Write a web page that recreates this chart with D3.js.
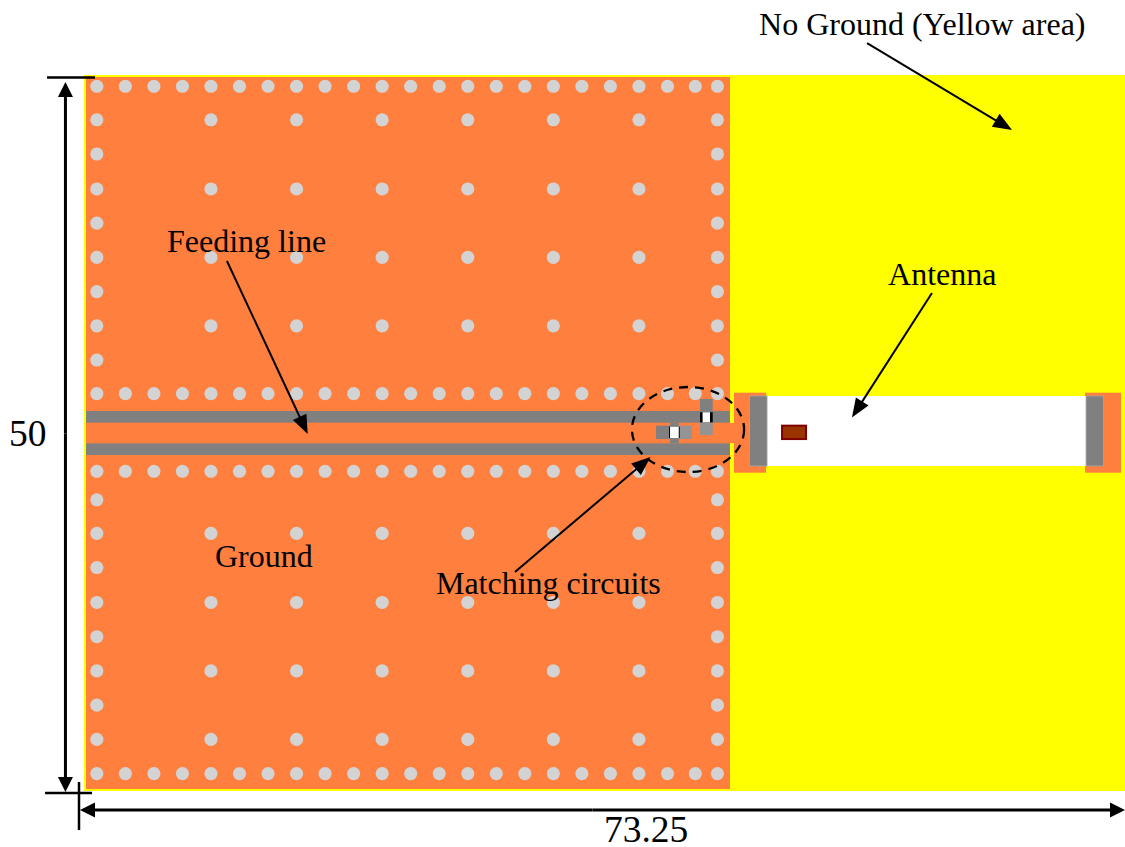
<html>
<head>
<meta charset="utf-8">
<script src="https://d3js.org/d3.v7.min.js"></script>
<style>
  body { margin: 0; background: #fff; overflow: hidden; }
  text { font-family: "Liberation Serif", serif; fill: #000; }
</style>
</head>
<body>
<svg id="viz" width="1125" height="847"></svg>
<script>
// everything in mm, board is 73.25 x 50
var boardW = 73.25;
var boardH = 50;

// via positions
var edgeX = [1.25, 3.25, 5.25, 7.25, 9.25, 11.25, 13.25, 15.25, 17.25, 19.25, 21.25, 23.25,
             25.25, 27.25, 29.25, 31.25, 33.25, 35.25, 37.25, 39.25, 41.25, 43.2, 44.75];
var rowY = [0.65, 22.2, 27.65, 48.85];
var sideX = [1.25, 44.75];
var sideY = [3.0, 5.4, 7.85, 10.25, 12.65, 15.05, 17.45, 19.85,
             29.65, 32.0, 34.4, 36.85, 39.25, 41.65, 44.05, 46.45];
var innerX = [9.25, 15.25, 21.25, 27.25, 33.25, 39.25];
var innerY = [3.0, 7.85, 12.65, 17.45, 32.0, 36.85, 41.65, 46.45];

// [x0, x1, y0, y1]
var noGround = [0.35, 73.32, -0.14, 50.07];
var ground = [0.49, 45.63, 0, 49.93];
var feedLines = [[0.49, 45.63, 23.42, 24.24], [0.49, 45.63, 25.69, 26.51]];
var copper = [[45.63, 45.95, 24.26, 25.67], [45.91, 48.16, 22.14, 27.75], [70.52, 73.04, 22.14, 27.75]];
var antenna = [48.23, 70.59, 22.37, 27.28];
var antennaEnds = [[47.0, 48.23, 22.37, 27.28], [70.59, 71.81, 22.37, 27.28]];
var chip = [49.28, 50.96, 24.45, 25.39];

// matching parts: dark half, light half, white middle
var partsDark = [[43.53, 44.42, 22.58, 23.51], [40.45, 41.43, 24.45, 25.39], [41.43, 42.04, 24.24, 25.69]];
var partsLight = [[43.53, 44.42, 24.22, 25.11], [42.04, 42.97, 24.45, 25.39]];
var partsBlack = [[43.53, 44.42, 23.51, 24.22], [41.36, 42.11, 24.52, 25.32]];
var partsWhite = [[43.71, 44.23, 23.51, 24.22], [41.43, 42.04, 24.52, 25.32]];

var circuitRing = { cx: 42.69, cy: 24.72, rx: 3.93, ry: 2.98 };

// [x1, y1, x2, y2] the tip is x2,y2
var leaders = [
  [55.24, -2.38, 65.4, 3.72],
  [10.37, 12.9, 16.03, 25.04],
  [59.79, 15.15, 54.18, 23.88],
  [30.56, 34.71, 40.06, 26.65]
];
var dimArrows = [
  [-0.95, 25, -0.95, 0.35],
  [-0.95, 25, -0.95, 50.14],
  [36, 51.4, 0.07, 51.4],
  [36, 51.4, 73.32, 51.4]
];
var dimTicks = [
  [-2.24, 0.04, 1.12, 0.04],
  [-2.38, 50.21, 0.91, 50.21],
  [0, 49.44, 0, 52.81]
];

var labels = ["No Ground (Yellow area)", "Antenna", "Feeding line", "Ground", "Matching circuits"];
var labelX = [47.67, 56.71, 6.17, 9.53, 25.02];
var labelY = [-2.95, 14.59, 12.27, 34.36, 36.26];
var dimLabels = ["50", "73.25"];
var dimLabelX = [-4.91, 36.8];
var dimLabelY = [25.88, 53.65];

var x = d3.scaleLinear().domain([0, boardW]).range([79, 1124]);
var y = d3.scaleLinear().domain([0, boardH]).range([77, 790]);
var k = x(1) - x(0);

var svg = d3.select("#viz");

function rects(list, fill, stroke, sw) {
  svg.append("g").selectAll("rect")
    .data(list)
    .enter().append("rect")
      .attr("x", function(d) { return x(d[0]) })
      .attr("width", function(d) { return x(d[1]) - x(d[0]) })
      .attr("y", function(d) { return y(d[2]) })
      .attr("height", function(d) { return y(d[3]) - y(d[2]) })
      .attr("fill", fill)
      .attr("stroke", stroke || "none")
      .attr("stroke-width", sw || 0);
}

function arrows(list, sw, len, wid) {
  var g = svg.append("g");
  list.forEach(function(d) {
    var x1 = x(d[0]), y1 = y(d[1]), x2 = x(d[2]), y2 = y(d[3]);
    var a = Math.atan2(y2 - y1, x2 - x1);
    var cos = Math.cos(a), sin = Math.sin(a);
    var bx = x2 - len * cos, by = y2 - len * sin;
    g.append("line")
      .attr("x1", x1).attr("y1", y1)
      .attr("x2", bx + cos).attr("y2", by + sin)
      .attr("stroke", "#000")
      .attr("stroke-width", sw);
    g.append("polygon")
      .attr("points", [
        [x2, y2],
        [bx - sin * wid / 2, by + cos * wid / 2],
        [bx + sin * wid / 2, by - cos * wid / 2]
      ].join(" "))
      .attr("fill", "#000");
  });
}

// board
rects([noGround], "#FFFF00");
rects([ground], "#FF7F3F");
rects(copper, "#FF7F3F");
rects([antenna], "#FFFFFF");

// vias
var vias = [];
rowY.forEach(function(b) { edgeX.forEach(function(a) { vias.push([a, b]) }) });
sideX.forEach(function(a) { sideY.forEach(function(b) { vias.push([a, b]) }) });
innerX.forEach(function(a) { innerY.forEach(function(b) { vias.push([a, b]) }) });

svg.append("g").selectAll("circle")
  .data(vias)
  .enter().append("circle")
    .attr("cx", function(d) { return x(d[0]) })
    .attr("cy", function(d) { return y(d[1]) })
    .attr("r", 0.46 * k)
    .attr("fill", "#D3D3D3");

rects(feedLines, "#808080");
rects(antennaEnds, "#808080", "#A8A8A8", 0.8);
rects([chip], "#993300", "#800000", 2);
rects(partsDark, "#808080");
rects(partsLight, "#949494");
rects(partsBlack, "#000000");
rects(partsWhite, "#FFFFFF");

svg.append("ellipse")
  .attr("cx", x(circuitRing.cx))
  .attr("cy", y(circuitRing.cy))
  .attr("rx", circuitRing.rx * k)
  .attr("ry", circuitRing.ry * k)
  .attr("fill", "none")
  .attr("stroke", "#000")
  .attr("stroke-width", 2.3)
  .attr("stroke-dasharray", "9,7");

// dimension lines
svg.append("g").selectAll("line")
  .data(dimTicks)
  .enter().append("line")
    .attr("x1", function(d) { return x(d[0]) })
    .attr("y1", function(d) { return y(d[1]) })
    .attr("x2", function(d) { return x(d[2]) })
    .attr("y2", function(d) { return y(d[3]) })
    .attr("stroke", "#000")
    .attr("stroke-width", 2.5);

arrows(dimArrows, 3, 15, 15);
arrows(leaders, 2, 19, 15);

svg.append("g").selectAll("text")
  .data(labels)
  .enter().append("text")
    .attr("x", function(d, i) { return x(labelX[i]) })
    .attr("y", function(d, i) { return y(labelY[i]) })
    .attr("font-size", 32)
    .text(function(d) { return d });

svg.append("g").selectAll("text")
  .data(dimLabels)
  .enter().append("text")
    .attr("x", function(d, i) { return x(dimLabelX[i]) })
    .attr("y", function(d, i) { return y(dimLabelY[i]) })
    .attr("font-size", 37.5)
    .text(function(d) { return d });
</script>
</body>
</html>
